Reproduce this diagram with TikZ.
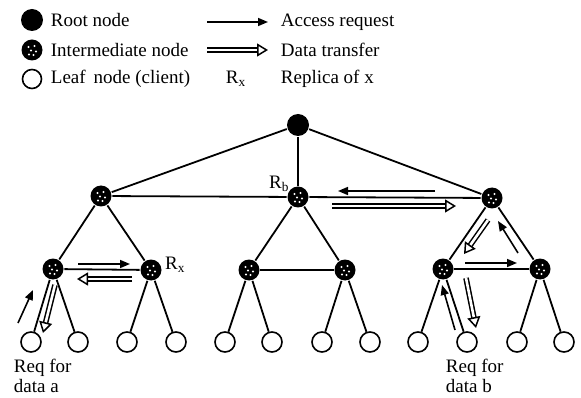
\documentclass[tikz,border=0pt]{standalone}
\usepackage{fontspec}
\setmainfont{Liberation Serif}
\usetikzlibrary{arrows.meta}

\tikzset{
  rootnode/.style={circle,fill=black,inner sep=0pt,minimum size=22pt},
  midnode/.style={circle,fill=black,inner sep=0pt,minimum size=21pt,
    path picture={
      \foreach \dx/\dy in {-3.5/3,2.5/4,-1/-0.5,4/-1.5,-3/-4.5,1.5/-5}
        \fill[white] ([shift={(\dx pt,\dy pt)}]path picture bounding box.center) circle (1.2pt);}},
  leaf/.style={circle,draw,fill=white,line width=1.6pt,inner sep=0pt,minimum size=20pt},
  req/.style={line width=1.6pt,-{Triangle[length=10pt,width=8pt]}},
  xfer/.style={double,double distance=2.6pt,line width=1.5pt,-{Triangle[open,length=11pt,width=13pt,fill=white]}},
  lbl/.style={anchor=west,inner sep=0pt}
}

\begin{document}
\begin{tikzpicture}[x=1pt,y=-1pt,font=\fontsize{19}{21}\selectfont,line width=1.8pt]
\useasboundingbox (0,0) rectangle (581,398);

% legend
\node[rootnode] (lgroot) at (32,20) {};
\node[midnode] (lgmid) at (32,50) {};
\node[leaf,minimum size=19pt] (lgleaf) at (32,79) {};
\node[lbl] (txroot) at (50,20) {Root node};
\node[lbl] (txmid) at (50,50) {Intermediate node};
\node[lbl] (txleaf) at (50,79) {Leaf\, node (client)};
\coordinate (lgreqs) at (207,22);
\coordinate (lgreqe) at (268,22);
\coordinate (lgxfers) at (207,50);
\coordinate (lgxfere) at (268,50);
\draw[req] (lgreqs) -- (lgreqe);
\draw[xfer] (lgxfers) -- (lgxfere);
\node[lbl] (lgrx) at (225,79) {R\textsubscript{x}};
\node[lbl] (txreq) at (280,22) {Access request};
\node[lbl] (txxfer) at (280,50) {Data transfer};
\node[lbl] (txrep) at (280,79) {Replica of x};

% tree
\node[rootnode] (root) at (298,125) {};
\node[midnode] (n1) at (101,196) {};
\node[midnode] (n2) at (298,197) {};
\node[midnode] (n3) at (492,198) {};
\node[midnode] (m1) at (53,269) {};
\node[midnode] (m2) at (151,270) {};
\node[midnode] (m3) at (249,270) {};
\node[midnode] (m4) at (345,270) {};
\node[midnode] (m5) at (443,269) {};
\node[midnode] (m6) at (540,269) {};
\foreach \x [count=\i] in {31,78,127,176,225,272,322,370,418,467,517,564}
  \node[leaf] (l\i) at (\x,342) {};

\foreach \a/\b in {root/n1,root/n2,root/n3,n1/n2,n2/n3,
                   n1/m1,n1/m2,n2/m3,n2/m4,n3/m5,n3/m6,m1/m2,m3/m4,m5/m6,
                   m1/l1,m1/l2,m2/l3,m2/l4,m3/l5,m3/l6,m4/l7,m4/l8,
                   m5/l9,m5/l10,m6/l11,m6/l12}
  \draw (\a) -- (\b);

\node (rb) at (279,184) {R\textsubscript{b}};
\node (rx) at (175,265) {R\textsubscript{x}};
\node[lbl] (reqa1) at (13,368) {Req for};
\node[lbl] (reqa2) at (13,386) {data a};
\node[lbl] (reqb1) at (445,368) {Req for};
\node[lbl] (reqb2) at (445,386) {data b};

% request / transfer for data a
\coordinate (p1) at (78,264);  \coordinate (p2) at (130,264);
\coordinate (p3) at (132,279); \coordinate (p4) at (77,279);
\coordinate (p5) at (18,323);  \coordinate (p6) at (33,290);
\coordinate (p7) at (55,285);  \coordinate (p8) at (43,333);
\draw[req] (p1) -- (p2);
\draw[xfer] (p3) -- (p4);
\draw[req] (p5) -- (p6);
\draw[xfer] (p7) -- (p8);

% request / transfer for data b
\coordinate (q1) at (435,191); \coordinate (q2) at (338,191);
\coordinate (q3) at (332,206); \coordinate (q4) at (456,206);
\coordinate (q5) at (488,220); \coordinate (q6) at (464,254);
\coordinate (q7) at (518,253); \coordinate (q8) at (498,221);
\coordinate (q9) at (465,263); \coordinate (q10) at (517,263);
\coordinate (q11) at (455,330); \coordinate (q12) at (442,285);
\coordinate (q13) at (466,278); \coordinate (q14) at (476,328);
\draw[req] (q1) -- (q2);
\draw[xfer] (q3) -- (q4);
\draw[xfer] (q5) -- (q6);
\draw[req] (q7) -- (q8);
\draw[req] (q9) -- (q10);
\draw[req] (q11) -- (q12);
\draw[xfer] (q13) -- (q14);
\end{tikzpicture}
\end{document}
